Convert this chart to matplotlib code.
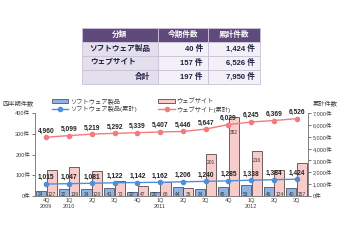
import numpy as np
import matplotlib
matplotlib.use('Agg')
import matplotlib.pyplot as plt
from matplotlib.patches import Patch
from matplotlib.lines import Line2D

plt.rcParams['font.family'] = ['Liberation Sans', 'Noto Sans CJK JP']

# データ
quarters = ['4Q\n2009', '1Q\n2010', '2Q', '3Q', '4Q', '1Q\n2011', '2Q', '3Q', '4Q', '1Q\n2012', '2Q', '3Q']
soft_q = [24, 32, 34, 41, 20, 20, 44, 34, 45, 53, 46, 40]
web_q = [127, 139, 120, 73, 47, 68, 39, 201, 382, 216, 124, 157]
soft_cum = [1015, 1047, 1081, 1122, 1142, 1162, 1206, 1240, 1285, 1338, 1384, 1424]
web_cum = [4960, 5099, 5219, 5292, 5339, 5407, 5446, 5647, 6029, 6245, 6369, 6526]

table_head = ['分類', '今期件数', '累計件数']
table_rows = [['ソフトウェア製品', '40 件', '1,424 件'],
              ['ウェブサイト', '157 件', '6,526 件'],
              ['合計', '197 件', '7,950 件']]

c_soft = '#8db4e2'
c_web = '#f9cccc'
c_soft_line = '#4f8fd8'
c_web_line = '#f07c80'
txt = '#404040'

fig = plt.figure(figsize=(3.6, 2.4), dpi=100)

# 表
tax = fig.add_axes([0.228, 0.65, 0.494, 0.233])
tax.axis('off')
tbl = tax.table(cellText=table_rows, colLabels=table_head,
                colWidths=[76, 50, 52], bbox=[0, 0, 1, 1])
tbl.auto_set_font_size(False)
for (r, c), cell in tbl.get_celld().items():
    cell.set_edgecolor('#c9c2d8')
    cell.set_linewidth(0.6)
    t = cell.get_text()
    t.set_fontsize(5.5)
    t.set_fontweight('bold')
    if r == 0:
        cell.set_facecolor('#604a7b')
        t.set_color('white')
        t.set_ha('center')
    else:
        t.set_color('#1f1f3f')
        if c == 0:
            cell.set_facecolor('#e4dfec')
            t.set_ha('right' if r == 3 else 'left')
        else:
            cell.set_facecolor('#f3f1f7')
            t.set_ha('right')

# グラフ
ax = fig.add_axes([0.097, 0.183, 0.759, 0.346])
ax2 = ax.twinx()
x = np.arange(len(quarters))
w = 0.44
ax.bar(x - 0.235, soft_q, w, color=c_soft, edgecolor='#3a3a4a', linewidth=0.5, zorder=2)
ax.bar(x + 0.235, web_q, w, color=c_web, edgecolor='#3a2a2a', linewidth=0.5, zorder=2)
for i in range(len(x)):
    ax.text(x[i] - 0.235, 10, str(soft_q[i]), fontsize=3.5, ha='center', va='center', color='#333333', zorder=3)
    yv = web_q[i] * 0.8 if web_q[i] > 190 else 10
    ax.text(x[i] + 0.235, yv, str(web_q[i]), fontsize=3.5, ha='center', va='center', color='#333333', zorder=3)

ax.set_ylim(0, 400)
ax.set_yticks([0, 100, 200, 300, 400])
ax.set_yticklabels([f'{v}件' for v in [0, 100, 200, 300, 400]])
ax.set_xlim(-0.5, len(x) - 0.5)
ax.set_xticks(x)
ax.set_xticklabels(quarters)

ax2.set_ylim(0, 7000)
ax2.set_yticks(range(0, 7001, 1000))
ax2.set_yticklabels([f'{v:,}件' for v in range(0, 7001, 1000)])
ax2.plot(x, soft_cum, color=c_soft_line, marker='o', markersize=3, linewidth=1, zorder=4)
ax2.plot(x, web_cum, color=c_web_line, marker='o', markersize=3, linewidth=1, zorder=4)
for i in range(len(x)):
    ax2.text(x[i], soft_cum[i] + 230, f'{soft_cum[i]:,}', fontsize=4.8, fontweight='bold',
             ha='center', va='bottom', color='#222222', zorder=5)
    ax2.text(x[i], web_cum[i] + 230, f'{web_cum[i]:,}', fontsize=4.8, fontweight='bold',
             ha='center', va='bottom', color='#222222', zorder=5)

for a in (ax, ax2):
    a.spines['top'].set_visible(False)
    a.tick_params(labelsize=4, colors=txt, length=2, width=0.5, pad=1.5)
    for s in a.spines.values():
        s.set_linewidth(0.6)
        s.set_color('#808080')
ax.tick_params(axis='x', length=0)
ax.set_zorder(ax2.get_zorder() - 1) if False else None

fig.text(0.008, 0.57, '四半期件数', fontsize=4.5, color=txt, va='center')
fig.text(0.868, 0.57, '累計件数', fontsize=4.5, color=txt, va='center')

handles = [Patch(facecolor=c_soft, edgecolor='#3a3a4a', linewidth=0.5),
           Line2D([], [], color=c_soft_line, marker='o', markersize=3, linewidth=1),
           Patch(facecolor=c_web, edgecolor='#3a2a2a', linewidth=0.5),
           Line2D([], [], color=c_web_line, marker='o', markersize=3, linewidth=1)]
labels = ['ソフトウェア製品', 'ソフトウェア製品(累計)', 'ウェブサイト', 'ウェブサイト(累計)']
fig.legend(handles, labels, ncol=2, loc='upper left', bbox_to_anchor=(0.135, 0.605),
           fontsize=4.5, frameon=False, handlelength=2.6, handleheight=0.8,
           columnspacing=3.5, labelspacing=0.25, handletextpad=0.3, borderpad=0,
           labelcolor=txt)

fig.savefig('out.png', dpi=100)
